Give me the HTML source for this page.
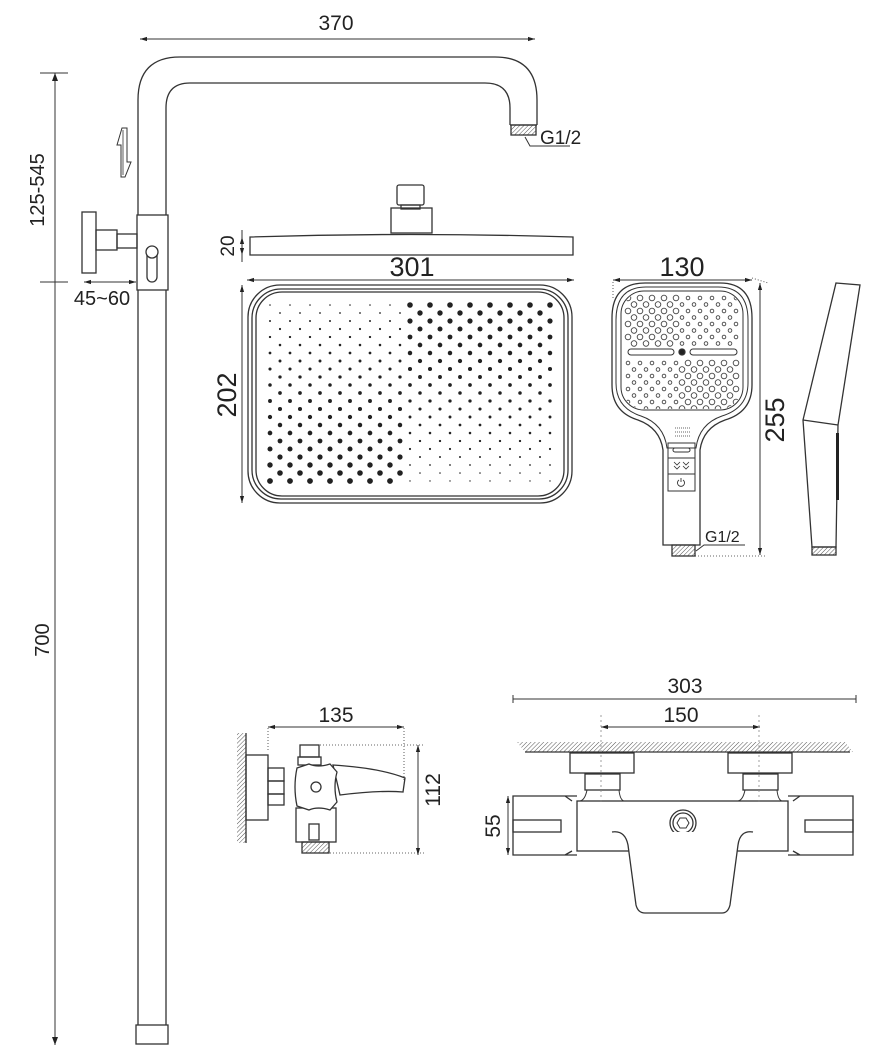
<!DOCTYPE html>
<html><head><meta charset="utf-8"><style>
html,body{margin:0;padding:0;background:#fff;}
svg{display:block;}
text{font-family:"Liberation Sans",sans-serif;fill:#222;}
</style></head><body>
<svg id="s" width="877" height="1057" viewBox="0 0 877 1057" xmlns="http://www.w3.org/2000/svg">
<defs>
<marker id="a" viewBox="0 0 10 10" refX="10" refY="5" markerWidth="7" markerHeight="7" orient="auto-start-reverse"><path d="M0,2 L10,5 L0,8 z" fill="#222"/></marker>
<pattern id="h" width="3" height="3" patternUnits="userSpaceOnUse" patternTransform="rotate(45)"><line x1="0" y1="0" x2="0" y2="3" stroke="#555" stroke-width="1"/></pattern>
<clipPath id="cp"><rect x="258" y="294" width="304" height="200" rx="24"/></clipPath>
<clipPath id="cp2"><rect x="622" y="292" width="120" height="117" rx="22"/></clipPath>
</defs>
<g fill="none" stroke="#333" stroke-width="1.3">
<line x1="140" y1="39" x2="535" y2="39" marker-start="url(#a)" marker-end="url(#a)" stroke-width="1"/>
<path d="M138,215 L138,100 Q138,57 180,57 L495,57 Q537,57 537,100 L537,125"/>
<path d="M166,215 L166,108 Q166,83 190,83 L485,83 Q510,83 510,108 L510,125"/>
<line x1="510" y1="125" x2="537" y2="125"/>
<rect x="511" y="125" width="25" height="10" fill="url(#h)"/>
<path d="M525,137 L530,146 L570,146" stroke-width="1"/>
<rect x="137" y="215" width="31" height="75" fill="#fff"/>
<rect x="147" y="248" width="10" height="34" rx="5"/>
<circle cx="152" cy="252" r="6" fill="#fff"/>
<rect x="82" y="212" width="14" height="61"/>
<rect x="96" y="230" width="21" height="20"/>
<rect x="117" y="234" width="20" height="14"/>
<line x1="138" y1="290" x2="138" y2="1025"/>
<line x1="166" y1="290" x2="166" y2="1025"/>
<rect x="136" y="1025" width="32" height="19"/>
<path d="M122,128 L127,128 L127,162 L131,162 L125,177 L121,177 L121,145 L117,145 Z" stroke-width="1"/>
<line x1="123" y1="130" x2="123" y2="175" stroke-width="0.8"/>
<line x1="55" y1="73" x2="55" y2="1045" stroke-width="1"/>
<path d="M55,73 l-3,8 h6 z" fill="#222" stroke="none"/>
<path d="M55,1045 l-3,-8 h6 z" fill="#222" stroke="none"/>
<line x1="40" y1="73" x2="68" y2="73" stroke-width="1"/>
<line x1="40" y1="282" x2="68" y2="282" stroke-width="1"/>
<line x1="84" y1="282" x2="136" y2="282" marker-start="url(#a)" marker-end="url(#a)" stroke-width="1"/>
<rect x="397" y="185" width="27" height="20" rx="2"/>
<rect x="401" y="205" width="19" height="4"/>
<rect x="391" y="208" width="41" height="25"/>
<path d="M250,237 Q410,232 573,237 L573,255 L250,255 Z"/>
<line x1="242" y1="230" x2="242" y2="262" stroke-width="1"/>
<line x1="242" y1="237" x2="242" y2="255" marker-start="url(#a)" marker-end="url(#a)" stroke-width="1"/>
<line x1="247" y1="280" x2="574" y2="280" marker-start="url(#a)" marker-end="url(#a)" stroke-width="1"/>
<line x1="242" y1="285" x2="242" y2="503" marker-start="url(#a)" marker-end="url(#a)" stroke-width="1"/>
<rect x="248" y="285" width="324" height="218" rx="32"/>
<rect x="252" y="289" width="316" height="210" rx="29"/>
<rect x="256" y="292" width="308" height="204" rx="26"/>
<line x1="613" y1="280" x2="752" y2="280" marker-start="url(#a)" marker-end="url(#a)" stroke-width="1"/>
<line x1="760" y1="283" x2="760" y2="555" marker-start="url(#a)" marker-end="url(#a)" stroke-width="1"/>
<line x1="613" y1="282" x2="613" y2="300" stroke-dasharray="1,2" stroke-width="0.8"/>
<line x1="752" y1="278" x2="768" y2="283" stroke-dasharray="1,2" stroke-width="0.8"/>
<line x1="695" y1="556" x2="765" y2="556" stroke-dasharray="1,2" stroke-width="0.8"/>
<path d="M645,283 L720,283 Q752,283 752,318 L752,385 Q752,412 725,420 Q703,428 700,450 L700,545 L663,545 L663,450 Q660,428 638,420 Q612,412 612,385 L612,318 Q612,283 645,283 Z"/>
<path d="M646,287 L718,287 Q748,287 748,320 L748,383 Q748,408 722,416 Q699,424 696,448 L667,448 Q664,424 641,416 Q616,408 616,383 L616,320 Q616,287 646,287 Z" stroke-width="1"/>
<rect x="621" y="291" width="122" height="119" rx="23" stroke-width="1"/>
<rect x="628" y="349" width="46" height="6" rx="3" stroke-width="1"/>
<rect x="690" y="349" width="47" height="6" rx="3" stroke-width="1"/>
<circle cx="682" cy="352" r="3" fill="#222"/>
<line x1="675" y1="428" x2="690" y2="428" stroke-width="0.8" stroke-dasharray="1,1"/>
<line x1="675" y1="432" x2="690" y2="432" stroke-width="0.8" stroke-dasharray="1,1"/>
<line x1="675" y1="436" x2="690" y2="436" stroke-width="0.8" stroke-dasharray="1,1"/>
<rect x="668" y="443" width="27" height="15" stroke-width="1"/>
<rect x="673" y="448" width="17" height="4" rx="2" stroke-width="1"/>
<rect x="668" y="458" width="27" height="16" stroke-width="1"/>
<path d="M674,462 l3,3 l3,-3 M674,466 l3,3 l3,-3 M683,462 l3,3 l3,-3 M683,466 l3,3 l3,-3" stroke-width="0.8"/>
<rect x="668" y="474" width="27" height="17" stroke-width="1"/>
<path d="M679,480 a3.5,3.5 0 1 0 4,0 M681,478 v4" stroke-width="0.9"/>
<rect x="672" y="545" width="23" height="11" fill="url(#h)"/>
<path d="M696,551 L704,545 L745,545" stroke-width="1"/>
<path d="M836,283 L860,285 L838,425 L836,547 L812,547 L803,420 Z"/>
<line x1="803" y1="420" x2="838" y2="425"/>
<rect x="836" y="433" width="3" height="67" fill="#222" stroke="none"/>
<rect x="812" y="547" width="24" height="8" fill="url(#h)"/>
<rect x="237" y="733" width="9" height="110" fill="url(#h)" stroke="none"/>
<line x1="246" y1="733" x2="246" y2="843"/>
<rect x="246" y="755" width="22" height="65"/>
<rect x="268" y="768" width="16" height="13"/>
<rect x="268" y="781" width="16" height="13"/>
<rect x="268" y="794" width="16" height="11"/>
<rect x="300" y="745" width="19" height="12"/>
<rect x="298" y="757" width="23" height="8"/>
<rect x="296" y="808" width="40" height="34"/>
<rect x="309" y="824" width="10" height="16"/>
<rect x="302" y="842" width="27" height="11" fill="url(#h)"/>
<path d="M333,765 Q380,768 405,778 L403,792 Q380,790 340,795 Z" fill="#fff"/>
<path d="M297,768 L309,764 Q318,768 330,764 L337,772 Q333,787 337,802 L330,810 Q318,806 309,810 L297,806 Q293,787 297,768 Z" fill="#fff"/>
<circle cx="316" cy="787" r="5"/>
<line x1="268" y1="727" x2="404" y2="727" marker-start="url(#a)" marker-end="url(#a)" stroke-width="1"/>
<line x1="268" y1="728" x2="268" y2="752" stroke-dasharray="1,2" stroke-width="0.8"/>
<line x1="404" y1="728" x2="404" y2="782" stroke-dasharray="1,2" stroke-width="0.8"/>
<line x1="320" y1="745" x2="425" y2="745" stroke-dasharray="1,2" stroke-width="0.8"/>
<line x1="330" y1="853" x2="425" y2="853" stroke-dasharray="1,2" stroke-width="0.8"/>
<line x1="418" y1="745" x2="418" y2="855" marker-start="url(#a)" marker-end="url(#a)" stroke-width="1"/>
<line x1="513" y1="699" x2="856" y2="699" stroke-width="1"/>
<line x1="513" y1="695" x2="513" y2="703" stroke-width="1"/><line x1="856" y1="695" x2="856" y2="703" stroke-width="1"/>
<line x1="601" y1="727" x2="760" y2="727" marker-start="url(#a)" marker-end="url(#a)" stroke-width="1"/>
<path d="M517,742 L845,742 L853,752 L525,752 Z" fill="url(#h)" stroke="none"/>
<line x1="525" y1="752" x2="850" y2="752"/>
<rect x="570" y="753" width="64" height="20"/>
<rect x="728" y="753" width="64" height="20"/>
<rect x="585" y="774" width="35" height="16"/>
<rect x="743" y="774" width="35" height="16"/>
<path d="M587,790 Q585,800 580,801 M619,790 Q620,800 624,801 M745,790 Q743,800 738,801 M777,790 Q778,800 782,801" stroke-width="1"/>
<rect x="577" y="801" width="211" height="50" fill="none"/>
<path d="M577,796 L513,796 L513,855 L577,855 M565,796 L572,801 M565,855 L572,851"/>
<path d="M788,796 L853,796 L853,855 L788,855 M800,796 L793,801 M800,855 L793,851"/>
<rect x="513" y="820" width="48" height="12"/>
<rect x="805" y="820" width="48" height="12"/>
<circle cx="683" cy="823" r="13"/><circle cx="683" cy="823" r="10"/>
<path d="M677,823 l3,-5 h6 l3,5 l-3,5 h-6 z" stroke-width="1"/>
<path d="M612,832 Q625,830 628,845 L636,905 Q638,913 645,913 L722,913 Q728,913 730,905 L738,845 Q740,830 753,832" fill="#fff"/>
<line x1="601" y1="715" x2="601" y2="805" stroke-dasharray="2,3" stroke-width="0.8" stroke="#888"/>
<line x1="759" y1="715" x2="759" y2="805" stroke-dasharray="2,3" stroke-width="0.8" stroke="#888"/>
<line x1="508" y1="796" x2="508" y2="855" marker-start="url(#a)" marker-end="url(#a)" stroke-width="1"/>
</g>
<g id="dots" fill="#222"></g>
<g font-size="20">
<text x="336" y="30" text-anchor="middle" font-size="21">370</text>
<text x="540" y="144" font-size="19">G1/2</text>
<text x="102" y="305" text-anchor="middle" font-size="20">45~60</text>
<text transform="translate(44,190) rotate(-90)" text-anchor="middle" font-size="20">125-545</text>
<text transform="translate(49,640) rotate(-90)" text-anchor="middle" font-size="20">700</text>
<text transform="translate(234,246) rotate(-90)" text-anchor="middle" font-size="19">20</text>
<text x="412" y="276" text-anchor="middle" font-size="27">301</text>
<text transform="translate(236,395) rotate(-90)" text-anchor="middle" font-size="27">202</text>
<text x="682" y="276" text-anchor="middle" font-size="27">130</text>
<text transform="translate(784,420) rotate(-90)" text-anchor="middle" font-size="27">255</text>
<text x="705" y="542" font-size="16">G1/2</text>
<text x="336" y="722" text-anchor="middle" font-size="21">135</text>
<text transform="translate(440,790) rotate(-90)" text-anchor="middle" font-size="21">112</text>
<text x="685" y="693" text-anchor="middle" font-size="21">303</text>
<text x="681" y="722" text-anchor="middle" font-size="21">150</text>
<text transform="translate(500,826) rotate(-90)" text-anchor="middle" font-size="21">55</text>
</g>
</svg>
<script>
(function(){
var g=document.getElementById('dots'),h='';
for(var r=0;r<23;r++){var y=305+r*8;var off=(r%2)?0:10;
 for(var x=270+off-10;x<=550;x+=20){if(x<268)continue;
  var right=x>409;var t=r/22;var rad=right?(2.8-2.1*t):(0.8+2.1*t);
  h+='<circle cx="'+x+'" cy="'+y+'" r="'+rad.toFixed(2)+'"/>';}}
var a='<g clip-path="url(#cp)">'+h+'</g>';
var b='';
for(var r=0;r<18;r++){var y=298+r*6.5;if(Math.abs(y-352)<5)continue;var off=(r%2)?6:0;
 for(var x=628+off;x<=740;x+=12){var rad=(x<682)==(y<352)?2.8:1.8;
  b+='<circle cx="'+x+'" cy="'+y.toFixed(1)+'" r="'+rad+'" fill="none" stroke="#444" stroke-width="0.9"/>';}}
g.innerHTML=a+'<g clip-path="url(#cp2)">'+b+'</g>';
})();
</script>
</body></html>
